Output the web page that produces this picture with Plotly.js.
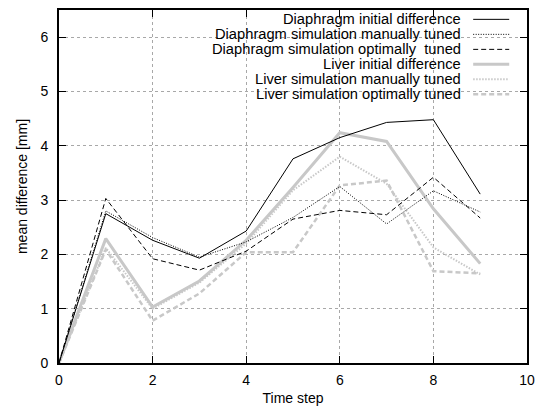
<!DOCTYPE html>
<html>
<head>
<meta charset="utf-8">
<script src="https://cdn.plot.ly/plotly-3.0.1.min.js"></script>
<style>html,body{margin:0;padding:0;background:#fff}#chart{width:537px;height:412px}</style>
</head>
<body>
<div id="chart"></div>
<script>
const timeSteps = [0, 1, 2, 3, 4, 5, 6, 7, 8, 9];
const diaphragmInitial = [0, 2.75, 2.26, 1.93, 2.43, 3.76, 4.15, 4.43, 4.48, 3.11];
const diaphragmManual = [0, 2.80, 2.31, 1.95, 2.23, 2.68, 3.25, 2.56, 3.17, 2.78];
const diaphragmOptimal = [0, 3.03, 1.92, 1.71, 2.06, 2.65, 2.81, 2.73, 3.42, 2.67];
const liverInitial = [0, 2.29, 1.03, 1.51, 2.26, 3.23, 4.24, 4.08, 2.84, 1.83];
const liverManual = [0, 2.12, 1.00, 1.48, 2.20, 3.18, 3.80, 3.30, 2.13, 1.63];
const liverOptimal = [0, 2.09, 0.78, 1.28, 2.04, 2.04, 3.27, 3.36, 1.69, 1.65];
const seriesNames = [
  "Diaphragm initial difference",
  "Diaphragm simulation manually tuned",
  "Diaphragm simulation optimally  tuned",
  "Liver initial difference",
  "Liver simulation manually tuned",
  "Liver simulation optimally tuned"
];
const xTicks = [0, 2, 4, 6, 8, 10];
const yTicks = [0, 1, 2, 3, 4, 5, 6];

const light = "rgb(200,200,200)";
const styles = [
  {color: "#000", width: 1, dash: "solid"},
  {color: "#000", width: 1, dash: "1px,1.5px"},
  {color: "#000", width: 1, dash: "5px,3px"},
  {color: light, width: 3, dash: "solid"},
  {color: light, width: 2, dash: "1.5px,1.5px"},
  {color: light, width: 2.5, dash: "5px,3px"}
];
const seriesValues = [diaphragmInitial, diaphragmManual, diaphragmOptimal, liverInitial, liverManual, liverOptimal];

// draw light (liver) lines below dark ones as in the reference
const order = [3, 4, 5, 0, 1, 2];
const traces = order.map(i => ({
  x: timeSteps, y: seriesValues[i], type: "scatter", mode: "lines",
  name: seriesNames[i], line: styles[i], showlegend: false, hoverinfo: "skip"
}));

// manual gnuplot-style legend: right-aligned text, sample to the right
const family = "Liberation Sans, Arial, sans-serif";
const font = {family: family, size: 14, color: "#000"};
const legendFont = {family: family, size: 14.7, color: "#000"};
const annotations = [];
const shapes = [{
  type: "rect", xref: "paper", yref: "paper", x0: 0.160, x1: 0.982, y0: 0.745, y1: 1,
  fillcolor: "#fff", line: {width: 0}, layer: "between"
}];
seriesNames.forEach((name, i) => {
  const yy = 0.9735 - i * 0.0425;
  annotations.push({
    xref: "paper", yref: "paper", x: 0.863, y: yy, xanchor: "right", yanchor: "middle",
    text: name, showarrow: false, font: legendFont
  });
  shapes.push({
    type: "line", xref: "paper", yref: "paper", x0: 0.885, x1: 0.962, y0: yy, y1: yy,
    line: styles[i], layer: "above"
  });
});

const axisCommon = {
  showline: true, linecolor: "#000", linewidth: 2, mirror: "ticks",
  ticks: "inside", ticklen: 7, tickwidth: 1, tickcolor: "#000",
  showgrid: true, gridcolor: "#a8a8a8", gridwidth: 1, griddash: "dot",
  zeroline: false, tickfont: font
};

const layout = {
  width: 537, height: 412,
  margin: {l: 59, r: 10, t: 10, b: 49},
  paper_bgcolor: "#fff", plot_bgcolor: "#fff",
  font: font,
  xaxis: Object.assign({}, axisCommon, {
    range: [0, 10], tickvals: xTicks, ticktext: xTicks.map(String), ticklabelstandoff: 3,
    title: {text: "Time step", font: font, standoff: 6}
  }),
  yaxis: Object.assign({}, axisCommon, {
    range: [0, 6.5], tickvals: yTicks, ticktext: yTicks.map(String), ticklabelstandoff: 6,
    title: {text: "mean difference [mm]", font: font, standoff: 10}
  }),
  shapes: shapes,
  annotations: annotations,
  showlegend: false
};

Plotly.newPlot("chart", traces, layout, {displayModeBar: false, staticPlot: true});
</script>
</body>
</html>
